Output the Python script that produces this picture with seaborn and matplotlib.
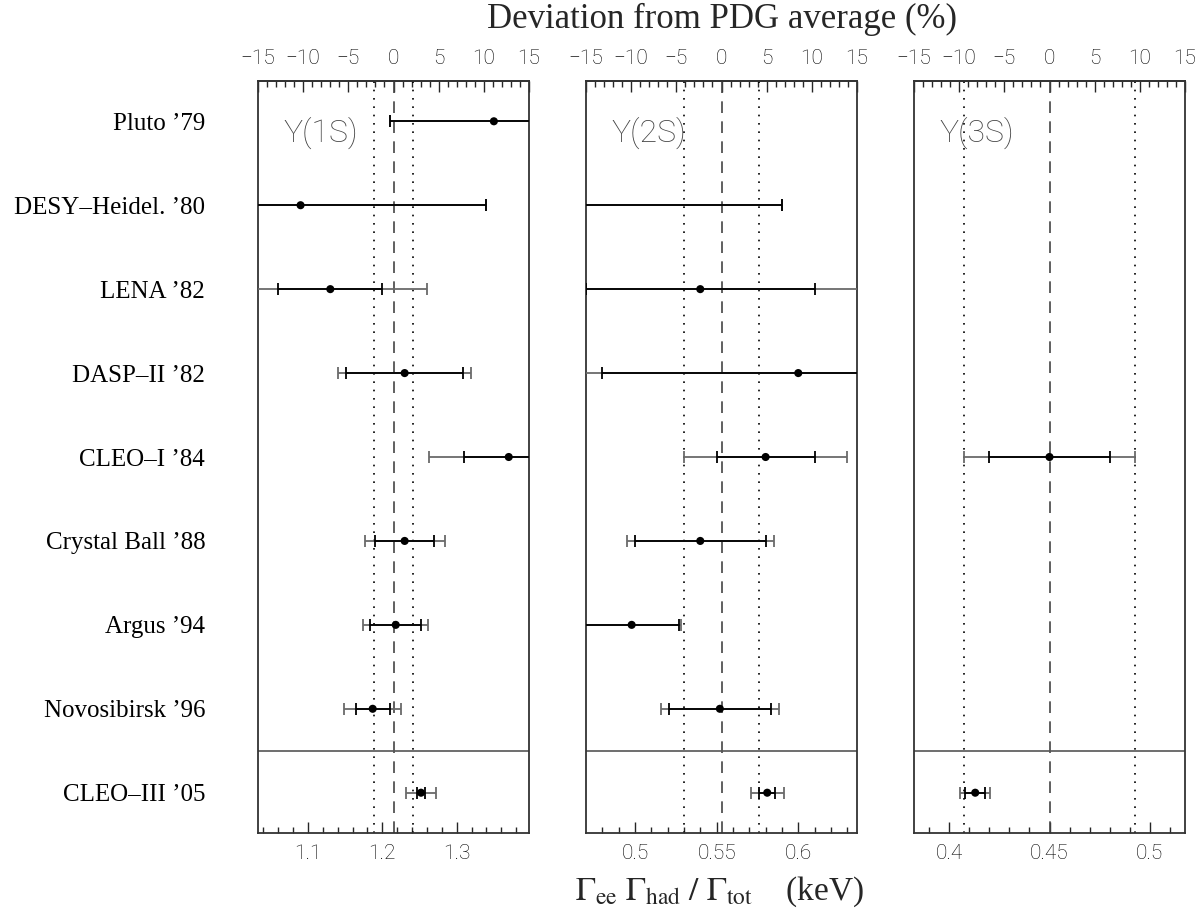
import numpy as np
import pandas as pd
import seaborn as sns
import matplotlib.pyplot as plt
from matplotlib.ticker import MultipleLocator, FormatStrFormatter

# --- データ ---
experiments = ["Pluto ’79", "DESY–Heidel. ’80", "LENA ’82", "DASP–II ’82",
               "CLEO–I ’84", "Crystal Ball ’88", "Argus ’94", "Novosibirsk ’96",
               "CLEO–III ’05"]
states = ["Υ(1S)", "Υ(2S)", "Υ(3S)"]

# Γee Γhad / Γtot (keV), stat error, total error (NaN = no measurement)
val_1s = [1.35, 1.09, 1.13, 1.23, 1.37, 1.23, 1.218, 1.187, 1.252]
stat_1s = [0.14, 0.25, 0.07, 0.079, 0.06, 0.04, 0.034, 0.023, 0.005]
tot_1s = [0.14, 0.25, 0.13, 0.089, 0.107, 0.054, 0.044, 0.038, 0.020]

val_2s = [np.nan, 0.35, 0.540, 0.600, 0.580, 0.540, 0.498, 0.552, 0.581]
stat_2s = [np.nan, 0.24, 0.070, 0.120, 0.030, 0.040, 0.029, 0.031, 0.005]
tot_2s = [np.nan, 0.24, 0.110, 0.140, 0.050, 0.045, 0.030, 0.036, 0.010]

val_3s = [np.nan, np.nan, np.nan, np.nan, 0.450, np.nan, np.nan, np.nan, 0.413]
stat_3s = [np.nan, np.nan, np.nan, np.nan, 0.030, np.nan, np.nan, np.nan, 0.005]
tot_3s = [np.nan, np.nan, np.nan, np.nan, 0.0425, np.nan, np.nan, np.nan, 0.0075]

# PDG averages and their errors
pdg_avg = [1.215, 0.553, 0.450]
pdg_err = [0.0268, 0.0232, 0.0425]

major_step = [0.1, 0.05, 0.05]
minor_step = [0.02, 0.01, 0.01]

rows = list(range(len(experiments)))
frames = []
for st, v, s, t in zip(states, [val_1s, val_2s, val_3s],
                       [stat_1s, stat_2s, stat_3s], [tot_1s, tot_2s, tot_3s]):
    frames.append(pd.DataFrame({"state": st, "row": rows, "value": v,
                                "stat": s, "total": t}))
df = pd.concat(frames, ignore_index=True)

sns.set_style("white")
plt.rcParams["mathtext.fontset"] = "stix"
tick_font = ["Roboto", "DejaVu Sans"]
tick_weight = "light"

W, H = 1201, 916
fig = plt.figure(figsize=(W / 100, H / 100), dpi=100)

panel_x = [258, 586, 914]
panel_w = 271
top_px, bot_px = 81, 833

for k, st in enumerate(states):
    ax = fig.add_axes([panel_x[k] / W, 1 - bot_px / H, panel_w / W,
                       (bot_px - top_px) / H])
    c = pdg_avg[k]
    sub = df[df["state"] == st].dropna()

    # total error (gray) then stat error (black)
    ax.errorbar(sub["value"], sub["row"], xerr=sub["total"], fmt="none",
                ecolor="#6a6a6a", elinewidth=1.3, capsize=4, capthick=1.3,
                zorder=3)
    ax.errorbar(sub["value"], sub["row"], xerr=sub["stat"], fmt="none",
                ecolor="black", elinewidth=1.3, capsize=4, capthick=1.3,
                zorder=4)
    sns.scatterplot(data=sub, x="value", y="row", ax=ax, color="black",
                    s=34, edgecolor="none", zorder=5, legend=False)

    ax.axvline(c, color="#444444", ls=(0, (7, 5)), lw=1.2, zorder=2)
    ax.axvline(c - pdg_err[k], color="black", ls=(0, (1, 4)), lw=1.2, zorder=2)
    ax.axvline(c + pdg_err[k], color="black", ls=(0, (1, 4)), lw=1.2, zorder=2)
    ax.axhline(7.5, color="#555555", lw=1.2, zorder=2)

    ax.set_xlim(c * 0.85, c * 1.15)
    ax.set_ylim(8.48, -0.48)
    ax.set_xlabel("")
    ax.set_ylabel("")

    ax.xaxis.set_major_locator(MultipleLocator(major_step[k]))
    ax.xaxis.set_minor_locator(MultipleLocator(minor_step[k]))
    ax.xaxis.set_major_formatter(FormatStrFormatter("%g"))
    ax.tick_params(axis="x", which="major", direction="in", length=8,
                   width=1, pad=8, labelsize=15, labelcolor="black",
                   bottom=True)
    ax.tick_params(axis="x", which="minor", direction="in", length=4,
                   width=1, bottom=True)
    for lab in ax.get_xticklabels():
        lab.set_family(tick_font)
        lab.set_fontweight(tick_weight)

    if k == 0:
        ax.set_yticks(rows)
        ax.set_yticklabels(experiments, fontfamily="Liberation Serif",
                           fontsize=18, color="black")
        ax.tick_params(axis="y", length=0, pad=38)
    else:
        ax.set_yticks([])

    for sp in ax.spines.values():
        sp.set_color("#333333")
        sp.set_linewidth(1.3)

    # top axis: deviation from PDG average in %
    sec = ax.secondary_xaxis("top", functions=(lambda v, c=c: (v / c - 1) * 100,
                                               lambda d, c=c: c * (1 + d / 100)))
    sec.set_xticks(np.arange(-15, 16, 5))
    sec.xaxis.set_minor_locator(MultipleLocator(1))
    sec.tick_params(which="major", direction="in", length=8, width=1,
                    pad=9, labelsize=15, labelcolor="black")
    sec.tick_params(which="minor", direction="in", length=4, width=1)
    sec.spines["top"].set_color("#333333")
    sec.spines["top"].set_linewidth(1.3)
    for lab in sec.get_xticklabels():
        lab.set_family(tick_font)
        lab.set_fontweight(tick_weight)

    ax.text(0.095, 0.931, st, transform=ax.transAxes, fontsize=23,
            family=tick_font, fontweight=tick_weight, color="#444444",
            ha="left", va="center")

fig.text(722 / W, 1 - 19 / H, "Deviation from PDG average (%)",
         family="Liberation Serif", fontsize=25, ha="center", va="center")
fig.text(720 / W, 1 - 892 / H,
         r"$\Gamma_{\rm ee}\ \Gamma_{\rm had}\ /\ \Gamma_{\rm tot}$    (keV)",
         family="Liberation Serif", fontsize=24, ha="center", va="center")

fig.savefig("out.png", dpi=100)
